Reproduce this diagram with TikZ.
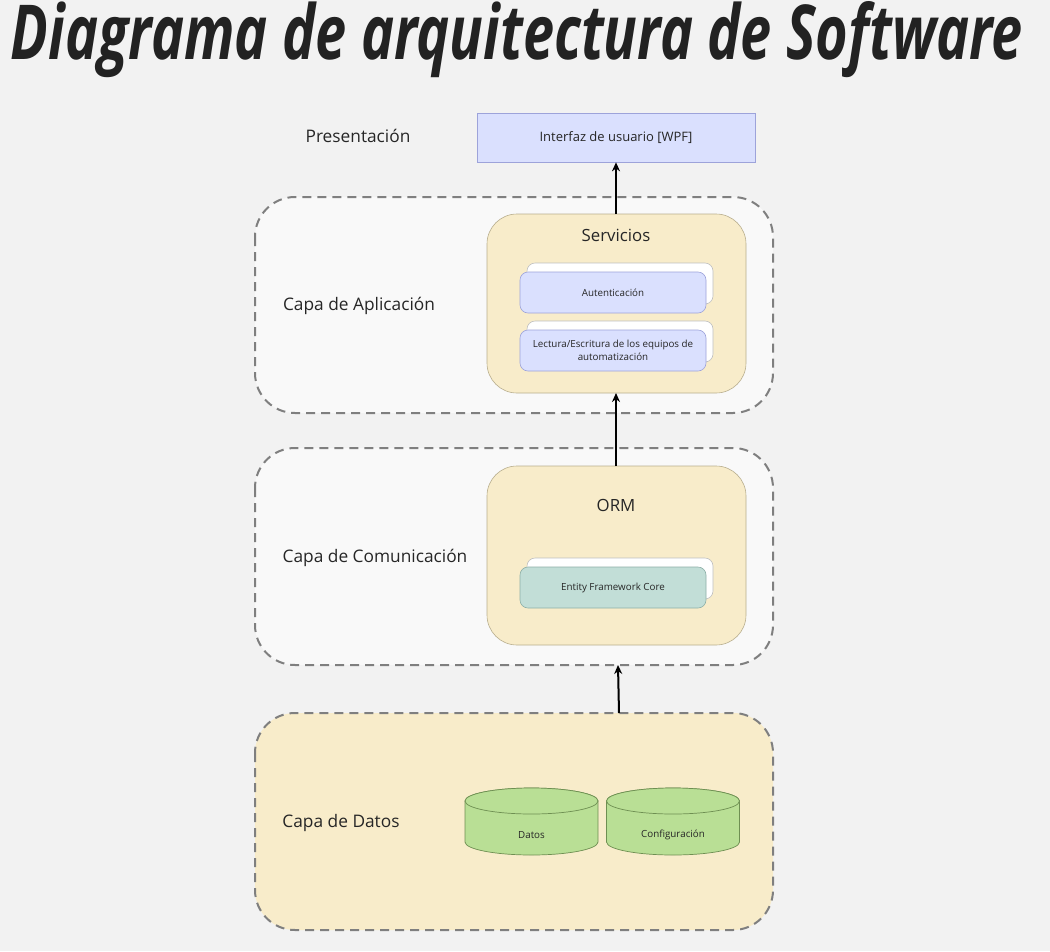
\documentclass[tikz,border=0pt]{standalone}
\usepackage{fontspec}
\setmainfont{Open Sans}
\usetikzlibrary{arrows.meta}
\definecolor{bgc}{HTML}{F2F2F2}
\definecolor{laneFill}{HTML}{F9F9F9}
\definecolor{dashc}{HTML}{7F7F7F}
\definecolor{tanFill}{HTML}{F8ECCA}
\definecolor{tanLine}{HTML}{B8AE8E}
\definecolor{blueFill}{HTML}{DAE0FE}
\definecolor{blueLine}{HTML}{9DA3DA}
\definecolor{tealFill}{HTML}{C2DED7}
\definecolor{tealLine}{HTML}{8DAFA7}
\definecolor{greenFill}{HTML}{B9DF95}
\definecolor{greenLine}{HTML}{6E8F52}
\definecolor{txt}{HTML}{262626}
\tikzset{
  lane/.style={draw=dashc, line width=2pt, dash pattern=on 9pt off 6pt, rounded corners=40pt},
  groupbox/.style={draw=tanLine, fill=tanFill, line width=0.6pt, rounded corners=30pt},
  backcard/.style={draw=black!25, fill=white, line width=0.6pt, rounded corners=8pt},
  bluecard/.style={draw=blueLine, fill=blueFill, line width=0.6pt, rounded corners=8pt},
  tealcard/.style={draw=tealLine, fill=tealFill, line width=0.6pt, rounded corners=8pt},
  lanelabel/.style={text=txt, font=\fontsize{17.3}{20}\selectfont},
  grouplabel/.style={text=txt, font=\fontsize{16.8}{19}\selectfont},
  cardtext/.style={text=txt, font=\fontsize{9.8}{13}\selectfont, align=center},
  dbshape/.style={draw=greenLine, fill=greenFill, line width=0.7pt},
  flow/.style={draw=black, line width=2pt, -{Stealth[length=9pt,width=8pt]}}
}
\newcommand{\dbcyl}[1]{%
  \draw[dbshape] (#1-66.5,801) -- (#1-66.5,842)
     arc[start angle=180, end angle=360, x radius=66.5pt, y radius=13pt]
     -- (#1+66.5,801)
     arc[start angle=0, end angle=180, x radius=66.5pt, y radius=13pt] -- cycle;
  \draw[dbshape] (#1,801) ellipse [x radius=66.5pt, y radius=13pt];}
\begin{document}
\begin{tikzpicture}[x=1pt,y=-1pt]
\useasboundingbox (0,0) rectangle (1050,951);
\fill[bgc] (0,0) rectangle (1050,951);
% title
\node[text=txt!90!black, anchor=center] (title) at (517,40) {\resizebox{1012pt}{58pt}{\bfseries\itshape Diagrama de arquitectura de Software}};
% presentation
\node[lanelabel] (lblpres) at (358,136) {Presentación};
\node[draw=blueLine, fill=blueFill, line width=0.7pt, minimum width=278pt, minimum height=49pt, inner sep=0pt, text=txt, font=\fontsize{13}{15}\selectfont] (ui) at (616,137.5) {Interfaz de usuario [WPF]};
% application lane
\draw[lane, fill=laneFill] (255,197) rectangle (773,413);
\node[lanelabel] (lblapp) at (359,306) {Capa de Aplicación};
\draw[groupbox] (487,214) rectangle (746,393);
\coordinate (servTop) at (616,214);
\coordinate (servBot) at (616,393);
\node[grouplabel] (serv) at (616,235) {Servicios};
\draw[backcard] (527,263) rectangle (713,304);
\node[bluecard, minimum width=186pt, minimum height=41pt, inner sep=0pt, cardtext] (auth) at (613,292.5) {Autenticación};
\draw[backcard] (527,321) rectangle (713,362);
\node[bluecard, minimum width=186pt, minimum height=41pt, inner sep=0pt, cardtext] (rw) at (613,350.5) {Lectura/Escritura de los equipos de\\automatización};
% communication lane
\draw[lane, fill=laneFill] (255,448) rectangle (773,665);
\node[lanelabel] (lblcom) at (375,558) {Capa de Comunicación};
\draw[groupbox] (487,466) rectangle (746,645);
\coordinate (ormTop) at (616,466);
\node[grouplabel] (orm) at (616,505) {ORM};
\draw[backcard] (527,558) rectangle (713,599);
\node[tealcard, minimum width=186pt, minimum height=41pt, inner sep=0pt, cardtext] (ef) at (613,587.5) {Entity Framework Core};
\coordinate (comBot) at (618,665);
% data lane
\draw[lane, fill=tanFill] (255,713) rectangle (773,930);
\coordinate (dataTop) at (619,713);
\node[lanelabel] (lbldat) at (341,823) {Capa de Datos};
\dbcyl{531.5}
\node[cardtext] (datosl) at (531.5,835) {Datos};
\dbcyl{673}
\node[cardtext] (confl) at (673,835) {Configuración};
% connectors
\draw[flow] (servTop) -- (ui.south);
\draw[flow] (ormTop) -- (servBot);
\draw[flow] (dataTop) -- (comBot);
\end{tikzpicture}
\end{document}
